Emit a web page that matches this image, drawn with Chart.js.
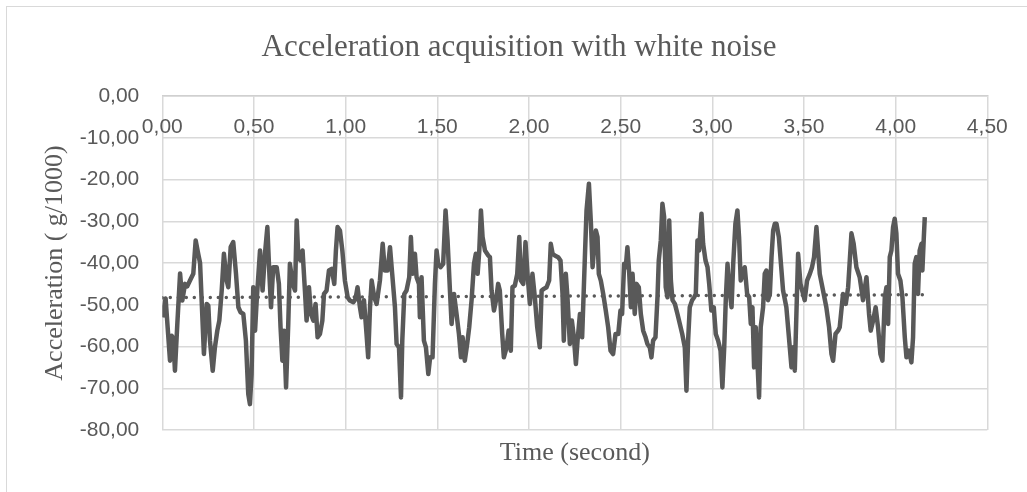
<!DOCTYPE html>
<html>
<head>
<meta charset="utf-8">
<script src="https://cdn.jsdelivr.net/npm/chart.js@4/dist/chart.umd.min.js"></script>
<style>
  body { margin: 0; background: #fff; }
  #wrap { position: relative; width: 1027px; height: 492px; }
  #frame { position: absolute; left: 6px; top: 6px; right: -2px; bottom: -2px;
           border-left: 1.5px solid #d9d9d9; border-top: 1.5px solid #d9d9d9; pointer-events: none; }
</style>
</head>
<body>
<div id="wrap">
  <canvas id="myChart" width="1027" height="492"></canvas>
  <div id="frame"></div>
</div>
<script>
// time in seconds, acceleration in g/1000
const times = [
  0.000, 0.018, 0.033, 0.042, 0.051, 0.060, 0.069, 0.082, 0.097, 0.109, 0.124, 0.136, 0.151, 0.169, 0.182, 0.196,
  0.206, 0.227, 0.242, 0.251, 0.260, 0.275, 0.287, 0.300, 0.311, 0.324, 0.336, 0.351, 0.360, 0.373, 0.387, 0.402,
  0.415, 0.427, 0.442, 0.456, 0.469, 0.478, 0.487, 0.496, 0.506, 0.515, 0.533, 0.547, 0.560, 0.573, 0.584, 0.593,
  0.605, 0.624, 0.636, 0.645, 0.655, 0.664, 0.675, 0.687, 0.696, 0.711, 0.724, 0.733, 0.742, 0.754, 0.765, 0.778,
  0.787, 0.800, 0.811, 0.824, 0.836, 0.847, 0.860, 0.873, 0.882, 0.896, 0.909, 0.924, 0.938, 0.947, 0.956, 0.969,
  0.982, 0.996, 1.011, 1.023, 1.042, 1.054, 1.065, 1.078, 1.087, 1.100, 1.114, 1.123, 1.133, 1.142, 1.156, 1.169,
  1.187, 1.202, 1.214, 1.229, 1.242, 1.254, 1.269, 1.278, 1.291, 1.302, 1.309, 1.320, 1.332, 1.347, 1.356, 1.365,
  1.378, 1.387, 1.400, 1.405, 1.414, 1.427, 1.438, 1.451, 1.461, 1.474, 1.487, 1.496, 1.505, 1.518, 1.532, 1.545,
  1.556, 1.569, 1.578, 1.591, 1.605, 1.618, 1.629, 1.638, 1.650, 1.663, 1.674, 1.687, 1.700, 1.710, 1.720, 1.729,
  1.738, 1.747, 1.760, 1.778, 1.787, 1.796, 1.809, 1.820, 1.832, 1.841, 1.854, 1.863, 1.878, 1.889, 1.901, 1.910,
  1.923, 1.936, 1.947, 1.956, 1.969, 1.981, 1.992, 2.005, 2.019, 2.032, 2.045, 2.059, 2.069, 2.081, 2.096, 2.110,
  2.119, 2.129, 2.141, 2.159, 2.172, 2.183, 2.190, 2.201, 2.210, 2.223, 2.234, 2.245, 2.256, 2.265, 2.278, 2.290,
  2.305, 2.314, 2.327, 2.338, 2.347, 2.356, 2.365, 2.374, 2.381, 2.392, 2.405, 2.419, 2.432, 2.445, 2.459, 2.472,
  2.487, 2.499, 2.508, 2.519, 2.528, 2.537, 2.547, 2.556, 2.565, 2.577, 2.587, 2.599, 2.610, 2.623, 2.636, 2.646,
  2.659, 2.668, 2.677, 2.690, 2.701, 2.708, 2.719, 2.728, 2.737, 2.746, 2.756, 2.765, 2.774, 2.783, 2.796, 2.810,
  2.823, 2.836, 2.850, 2.859, 2.868, 2.877, 2.890, 2.901, 2.910, 2.919, 2.928, 2.941, 2.950, 2.963, 2.974, 2.983,
  2.995, 3.008, 3.019, 3.032, 3.045, 3.055, 3.065, 3.074, 3.083, 3.092, 3.105, 3.114, 3.126, 3.137, 3.146, 3.155,
  3.168, 3.177, 3.190, 3.201, 3.210, 3.219, 3.228, 3.237, 3.246, 3.255, 3.264, 3.277, 3.286, 3.295, 3.304, 3.314,
  3.323, 3.332, 3.341, 3.350, 3.363, 3.386, 3.404, 3.432, 3.441, 3.450, 3.468, 3.481, 3.504, 3.517, 3.532, 3.544,
  3.555, 3.568, 3.586, 3.604, 3.622, 3.637, 3.650, 3.659, 3.672, 3.686, 3.695, 3.713, 3.728, 3.741, 3.759, 3.771,
  3.786, 3.804, 3.822, 3.841, 3.855, 3.864, 3.877, 3.891, 3.904, 3.917, 3.928, 3.941, 3.950, 3.959, 3.968, 3.977,
  3.986, 3.995, 4.004, 4.013, 4.026, 4.037, 4.050, 4.059, 4.073, 4.086, 4.095, 4.104, 4.113, 4.122, 4.131, 4.141,
  4.146, 4.153, 4.159
];
const accel = [
  -53.0, -48.5, -57.8, -63.4, -57.4, -58.0, -65.8, -54.5, -42.5, -49.0, -45.0, -45.6, -44.2, -42.6, -34.6, -37.8,
  -40.0, -61.8, -49.8, -50.2, -58.6, -65.8, -60.2, -56.2, -53.8, -46.6, -37.8, -44.2, -45.8, -36.2, -35.0, -42.6,
  -50.6, -51.8, -52.2, -58.6, -71.4, -73.8, -66.6, -45.8, -56.2, -48.9, -37.0, -46.6, -37.8, -31.4, -42.6, -50.6,
  -41.0, -41.0, -45.0, -55.4, -63.4, -56.2, -69.8, -54.6, -40.2, -45.0, -46.6, -29.8, -38.6, -39.4, -37.0, -46.6,
  -53.8, -45.8, -52.2, -53.8, -49.8, -57.8, -57.0, -53.8, -47.4, -46.6, -41.8, -41.4, -45.0, -37.0, -31.4, -32.2,
  -37.0, -44.2, -48.2, -49.0, -49.4, -48.6, -45.8, -50.6, -53.0, -48.9, -57.0, -62.6, -50.6, -44.2, -48.2, -49.8,
  -44.2, -35.4, -41.8, -41.8, -36.2, -42.6, -50.6, -59.4, -60.2, -72.2, -58.6, -47.4, -46.6, -43.4, -33.8, -42.6,
  -37.8, -43.4, -45.0, -53.0, -43.4, -58.6, -60.2, -66.6, -62.6, -62.6, -45.0, -37.0, -40.2, -41.0, -40.2, -27.4,
  -34.6, -46.6, -54.6, -47.4, -52.2, -57.0, -62.6, -57.8, -63.4, -59.4, -55.4, -48.9, -40.2, -37.8, -42.6, -37.0,
  -27.4, -33.8, -37.0, -38.2, -38.6, -46.6, -51.4, -49.0, -45.0, -46.6, -57.0, -62.6, -60.2, -56.2, -61.0, -45.8,
  -45.4, -42.6, -33.8, -44.2, -45.0, -35.0, -42.6, -49.8, -42.6, -48.2, -55.4, -60.2, -46.6, -46.2, -45.8, -44.2,
  -35.4, -37.8, -38.2, -38.6, -39.4, -47.4, -58.6, -42.6, -48.2, -59.4, -53.8, -57.8, -64.2, -58.6, -52.2, -57.8,
  -38.6, -27.4, -21.0, -30.6, -41.0, -36.2, -32.2, -33.8, -42.6, -44.2, -47.4, -51.4, -55.4, -61.0, -61.8, -57.0,
  -57.0, -51.4, -52.2, -40.2, -41.0, -36.2, -42.6, -50.6, -42.6, -52.2, -45.0, -45.8, -52.2, -56.2, -57.8, -59.4,
  -60.2, -62.6, -58.6, -57.8, -48.2, -39.4, -34.6, -25.8, -28.9, -45.8, -48.2, -29.8, -44.2, -48.9, -49.8, -52.2,
  -54.6, -57.0, -60.2, -70.6, -58.6, -50.6, -48.9, -48.2, -47.4, -34.6, -37.0, -28.2, -35.4, -39.4, -41.0, -45.0,
  -51.4, -50.6, -57.0, -58.6, -61.0, -69.8, -60.2, -48.2, -40.2, -45.8, -50.6, -40.2, -30.6, -27.4, -33.8, -44.2,
  -42.6, -41.0, -47.4, -48.2, -54.6, -50.6, -65.0, -55.4, -63.4, -72.2, -55.4, -50.6, -42.6, -41.8, -48.9, -47.4,
  -38.6, -32.2, -30.6, -30.6, -33.8, -46.6, -50.6, -65.0, -60.2, -65.8, -37.8, -45.0, -48.9, -44.2, -42.6, -41.0,
  -38.6, -31.4, -42.6, -46.6, -50.6, -55.4, -61.8, -63.4, -57.0, -56.2, -55.4, -47.4, -49.8, -45.8, -32.9, -35.4,
  -41.0, -43.4, -48.9, -43.4, -52.2, -56.2, -53.8, -50.6, -55.4, -61.8, -63.4, -48.2, -45.8, -54.6, -38.6, -37.0,
  -31.4, -29.4, -32.9, -42.6, -44.2, -48.2, -57.8, -62.6, -61.0, -63.8, -57.8, -40.2, -38.6, -47.4, -37.0, -35.4,
  -41.8, -34.6, -29.0
];
// linear trendline, end points
const trendTimes = [0, 4.159];
const trendValues = [-48.3, -47.6];

const comma = v => Number(v).toFixed(2).replace('.', ',');
const serif = '"Liberation Serif", "Times New Roman", serif';

const ctx = document.getElementById('myChart').getContext('2d');
Chart.defaults.font.family = '"Liberation Sans", Arial, sans-serif';
Chart.defaults.color = '#595959';

const chart = new Chart(ctx, {
    type: 'line',
    data: {
        datasets: [{
            label: 'Acceleration',
            data: times.map((t, i) => ({ x: t, y: accel[i] })),
            borderColor: '#595959',
            borderWidth: 4.5,
            borderJoinStyle: 'round',
            pointRadius: 0,
            tension: 0,
        }, {
            label: 'Trend',
            data: trendTimes.map((t, i) => ({ x: t, y: trendValues[i] })),
            borderColor: '#595959',
            borderWidth: 3.5,
            borderDash: [0, 8],
            borderCapStyle: 'round',
            pointRadius: 0,
        }],
    },
    options: {
        responsive: false,
        animation: false,
        devicePixelRatio: 1,
        layout: { padding: { left: 50.7, right: 39.7, top: 0, bottom: 0 } },
        plugins: {
            legend: { display: false },
            tooltip: { enabled: false },
            title: {
                display: true,
                text: 'Acceleration acquisition with white noise',
                color: '#595959',
                font: { family: serif, size: 31, weight: 'normal', lineHeight: 1.2 },
                padding: { top: 29.4, bottom: 10 },
            },
        },
        scales: {
            x: {
                type: 'linear',
                position: 'top',
                min: 0,
                max: 4.5,
                ticks: {
                    stepSize: 0.5,
                    mirror: true,
                    padding: 18.7,
                    maxRotation: 0,
                    font: { size: 21, lineHeight: 1.2 },
                    callback: v => comma(v),
                },
                grid: { color: '#d9d9d9', lineWidth: 1.5, drawTicks: false },
                border: { color: '#d0d0d0', width: 1.5 },
                afterFit: s => { s.height = 96 - 76.6; },
            },
            // bottom axis only carries the axis title
            xTitle: {
                type: 'linear',
                position: 'bottom',
                min: 0,
                max: 4.5,
                ticks: { display: false },
                grid: { display: false },
                border: { display: false },
                title: {
                    display: true,
                    text: 'Time (second)',
                    color: '#595959',
                    font: { family: serif, size: 26, lineHeight: 1.2 },
                    padding: { top: 0, bottom: 23.4 },
                },
                afterFit: s => { s.height = 62; },
            },
            y: {
                min: -80,
                max: 0,
                ticks: {
                    stepSize: 10,
                    padding: 23,
                    font: { size: 21 },
                    callback: v => comma(v),
                },
                grid: { color: '#d9d9d9', lineWidth: 1.5, drawTicks: false },
                border: { display: false },
                title: {
                    display: true,
                    text: 'Acceleration ( g/1000)',
                    color: '#595959',
                    font: { family: serif, size: 26, lineHeight: 1.2 },
                    padding: { top: -11.3, bottom: 0 },
                },
                afterFit: s => { s.width = 111.6; },
            },
        },
    },
});
</script>
</body>
</html>
